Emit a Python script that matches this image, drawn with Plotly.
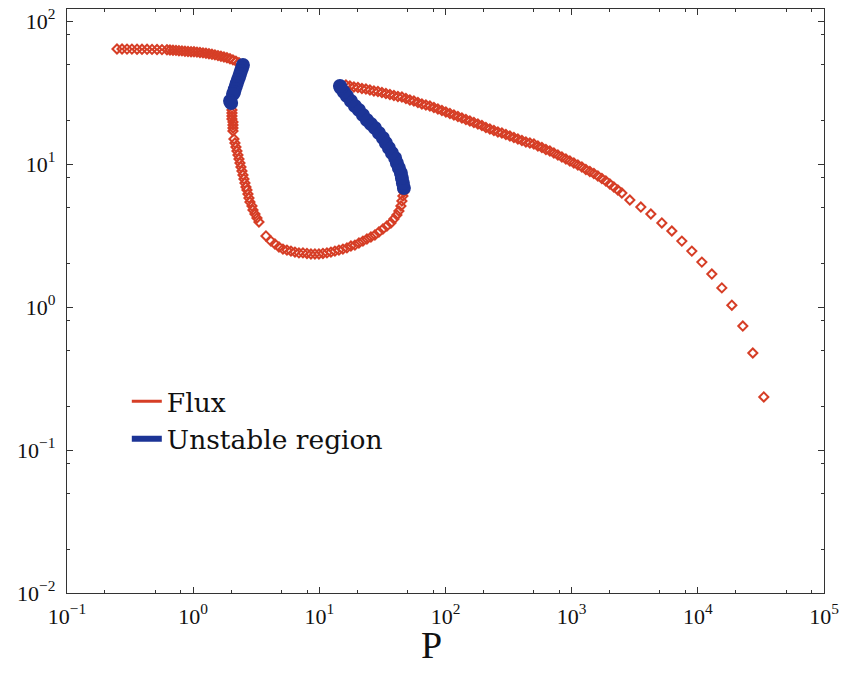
import plotly.graph_objects as go

# ---------------- data ----------------
# Flux branch (red), in drawing order
flux_P = [
    0.249, 0.273, 0.299, 0.327, 0.359, 0.393, 0.431, 0.472, 0.517, 0.566, 0.620,
    0.655, 0.692, 0.731, 0.771, 0.815, 0.861, 0.910, 0.962, 1.015, 1.072, 1.132,
    1.196, 1.263, 1.334, 1.409, 1.488, 1.573, 1.660, 1.754, 1.853, 1.958, 2.067,
    2.183, 2.307,
    2.030, 2.030, 2.030, 2.030, 2.067, 2.067, 2.067, 2.067,
    2.105, 2.144, 2.183, 2.224, 2.265, 2.307, 2.349, 2.392, 2.436, 2.481, 2.527,
    2.573, 2.621, 2.669, 2.718, 2.768, 2.819, 2.924, 2.978, 3.088, 3.203, 3.322,
    3.775, 4.135, 4.448, 4.786, 5.148, 5.538, 5.957, 6.409, 6.894, 7.416, 7.977,
    8.581, 9.230, 9.927, 10.68, 11.49, 12.36, 13.29, 14.30, 15.38, 16.55, 17.80,
    19.15, 20.60, 22.16, 23.84, 25.64, 27.58, 29.67, 31.92, 34.34, 36.94, 39.00,
    41.19, 42.73, 44.32, 45.13, 45.96, 46.81,
    16.25, 17.47, 18.80, 20.22, 21.76, 23.41, 25.18, 27.08, 29.13, 31.33, 33.70,
    36.26, 39.00, 41.95, 45.13, 48.55, 52.22, 56.17, 60.43, 65.01, 69.93, 75.22,
    80.92, 87.05, 93.65, 100.7, 108.4, 116.6, 125.4, 134.9, 145.1, 156.1, 167.9,
    180.6, 194.3, 209.0, 224.8, 241.9, 260.2, 279.9, 301.1, 323.9, 348.4, 374.8,
    403.2, 433.7, 466.6, 501.9, 539.9, 580.8, 624.8, 672.1, 723.0, 777.7, 836.6,
    899.9, 968.1, 1041, 1120, 1205, 1296, 1394, 1500, 1613, 1735, 1866, 2008,
    2160, 2323,
    2500, 2892, 3534, 4243, 5185, 6223, 7469, 8963, 10760, 12910, 15500, 18600,
    22730, 27280, 33340,
]
flux_F = [
    63.7, 63.7, 63.6, 63.6, 63.5, 63.4, 63.4, 63.3, 63.2, 63.1, 63.0,
    62.7, 62.5, 62.3, 62.0, 61.8, 61.5, 61.2, 61.0, 60.9, 60.6, 60.3,
    59.9, 59.5, 59.0, 58.5, 58.0, 57.3, 56.7, 56.0, 55.3, 54.5, 53.5,
    52.4, 51.0,
    23.86, 22.74, 21.66, 20.64, 19.67, 18.74, 17.85, 17.01,
    14.96, 14.02, 13.15, 12.33, 11.56, 10.84, 10.16, 9.53, 8.93, 8.38, 7.86,
    7.36, 6.91, 6.58, 6.17, 5.78, 5.42, 5.09, 4.77, 4.47, 4.19, 3.93,
    3.14, 2.89, 2.76, 2.63, 2.54, 2.50, 2.46, 2.42, 2.39, 2.39, 2.37,
    2.35, 2.35, 2.35, 2.37, 2.39, 2.42, 2.46, 2.50, 2.54, 2.59, 2.67,
    2.71, 2.80, 2.89, 2.99, 3.09, 3.19, 3.35, 3.51, 3.69, 3.87, 4.12,
    4.40, 4.69, 5.09, 5.51, 5.97, 6.37,
    35.67, 35.12, 34.56, 34.28, 33.73, 33.46, 32.92, 32.40, 32.14, 31.62, 31.12,
    30.62, 30.13, 29.65, 29.41, 28.71, 28.03, 27.58, 26.92, 26.28, 25.86, 25.45,
    24.84, 24.25, 23.67, 23.10, 22.55, 22.01, 21.49, 20.97, 20.47, 19.98, 19.51,
    19.04, 18.59, 18.00, 17.57, 17.15, 16.74, 16.48, 16.08, 15.70, 15.32, 14.96,
    14.60, 14.25, 14.02, 13.80, 13.36, 13.05, 12.63, 12.33, 11.94, 11.56, 11.19,
    10.84, 10.50, 10.16, 9.84, 9.53, 9.15, 8.86, 8.58, 8.25, 7.92, 7.60, 7.25,
    6.91, 6.58,
    6.27, 5.60, 5.00, 4.47, 3.87, 3.40, 2.89, 2.46, 2.06, 1.70, 1.36, 1.03,
    0.736, 0.477, 0.235,
]

# Unstable region (blue)
unstable_P = [
    2.48, 2.44, 2.39, 2.35, 2.31, 2.26, 2.22, 2.18, 2.14, 2.11, 2.07, 1.96, 2.00,
    46.81, 45.96, 45.13, 44.32, 42.73, 41.19, 39.87, 37.62, 35.61, 33.70, 31.92,
    29.67, 27.58, 25.64, 23.84, 22.16, 20.60, 19.15, 17.80, 16.55, 15.66, 14.83,
    14.56,
]
unstable_F = [
    49.2, 46.9, 44.7, 42.6, 40.6, 38.7, 36.8, 35.1, 33.4, 31.9, 30.9, 27.6, 26.7,
    6.79, 7.36, 7.98, 8.65, 9.38, 10.16, 11.02, 11.94, 12.94, 14.02, 15.20,
    16.48, 17.85, 19.04, 20.31, 22.01, 23.86, 25.45, 27.58, 29.89, 31.88, 34.00,
    35.12,
]

x_tick_vals = [0.1, 1, 10, 100, 1000, 10000, 100000]
x_tick_text = ["10<sup>−1</sup>", "10<sup>0</sup>", "10<sup>1</sup>", "10<sup>2</sup>",
               "10<sup>3</sup>", "10<sup>4</sup>", "10<sup>5</sup>"]
y_tick_vals = [0.01, 0.1, 1, 10, 100]
y_tick_text = ["10<sup>−2</sup>", "10<sup>−1</sup>", "10<sup>0</sup>", "10<sup>1</sup>",
               "10<sup>2</sup>"]
x_title = "P"

RED = "rgb(214,62,38)"
BLUE = "rgb(28,52,150)"
FONT = "DejaVu Serif"
TICKFONT = "Liberation Serif"

fig = go.Figure()
fig.add_trace(go.Scatter(
    x=flux_P, y=flux_F, mode="markers", showlegend=False,
    marker=dict(symbol="diamond-open", size=7, color=RED, line=dict(width=2.0, color=RED)),
))
fig.add_trace(go.Scatter(
    x=unstable_P, y=unstable_F, mode="markers", showlegend=False,
    marker=dict(symbol="circle", size=14, color=BLUE, line=dict(width=0)),
))
# legend entries (line samples as in the reference)
fig.add_trace(go.Scatter(x=[None], y=[None], mode="lines", name="Flux",
                         line=dict(color=RED, width=3)))
fig.add_trace(go.Scatter(x=[None], y=[None], mode="lines", name="Unstable region",
                         line=dict(color=BLUE, width=6)))

minor_vals_x = [m * 10 ** e for e in range(-1, 5) for m in (2, 5, 8)]
minor_vals_y = [m * 10 ** e for e in range(-2, 2) for m in (2, 5, 8)]

axis_common = dict(
    type="log", showgrid=False, zeroline=False, automargin=False,
    showline=True, linecolor="#333", linewidth=1.2, mirror="ticks",
    ticks="inside", ticklen=6, tickwidth=1, tickcolor="#333",
    tickfont=dict(family=TICKFONT, size=22, color="#111"),
    ticklabeloverflow="allow",
)

fig.update_xaxes(
    **axis_common, range=[-1, 5], tickvals=x_tick_vals, ticktext=x_tick_text,
    minor=dict(tickvals=minor_vals_x, ticks="inside", ticklen=3, tickcolor="#333"),
    ticklabelstandoff=3,
)
fig.update_yaxes(
    **axis_common, range=[-2, 2.084], tickvals=y_tick_vals, ticktext=y_tick_text,
    minor=dict(tickvals=minor_vals_y, ticks="inside", ticklen=3, tickcolor="#333"),
    ticklabelstandoff=6,
)

fig.add_annotation(
    text=x_title, xref="paper", yref="paper", x=0.481, y=0,
    xanchor="center", yanchor="middle", yshift=-52, showarrow=False,
    font=dict(family=TICKFONT, size=38, color="#111"),
)

fig.update_layout(
    width=842, height=675, autosize=False,
    margin=dict(l=67, r=18, t=9, b=82),
    paper_bgcolor="white", plot_bgcolor="white",
    legend=dict(
        x=0.079, y=0.369, xanchor="left", yanchor="top",
        bgcolor="rgba(0,0,0,0)", borderwidth=0,
        font=dict(family=FONT, size=26.5, color="#111"),
    ),
)

# remove the browser's default page margin / scrollbars so the figure fills the window exactly
fig.write_html(
    "out.html",
    config={"displayModeBar": False, "responsive": False},
    post_script="document.body.style.margin='0';document.body.style.overflow='hidden';"
                "document.documentElement.style.overflow='hidden';",
)
